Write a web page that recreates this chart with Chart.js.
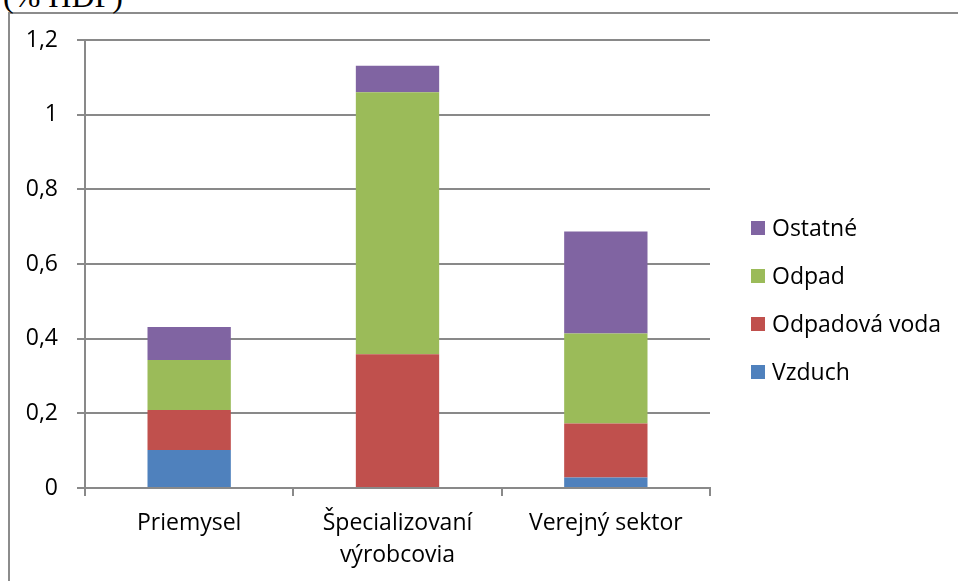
<!DOCTYPE html>
<html>
<head>
<meta charset="utf-8">
<script src="https://cdn.jsdelivr.net/npm/chart.js@4/dist/chart.umd.min.js"></script>
<style>
  html, body { margin: 0; padding: 0; background: #fff; }
  body { width: 958px; height: 581px; position: relative; overflow: hidden; }
  #frame { position: absolute; left: 8px; top: 12px; width: 1000px; height: 700px;
           border-left: 2px solid #8c8c8c; border-top: 2px solid #8c8c8c; box-sizing: border-box; }
  #unit { position: absolute; left: 3px; top: -20px; font-family: "Liberation Serif", "Times New Roman", serif;
          font-size: 32px; line-height: 32px; color: #000; white-space: nowrap; }
  #wrap { position: absolute; left: 0; top: 0; width: 958px; height: 581px; }
</style>
</head>
<body>
<div id="frame"></div>
<div id="unit">(% HDP)</div>
<div id="wrap"><canvas id="c" width="958" height="581"></canvas></div>
<script>
const categories = ['Priemysel', ['Špecializovaní', 'výrobcovia'], 'Verejný sektor'];
const seriesNames = ['Vzduch', 'Odpadová voda', 'Odpad', 'Ostatné'];
const vzduch = [0.102, 0.0, 0.028];
const odpadovaVoda = [0.107, 0.358, 0.145];
const odpad = [0.134, 0.702, 0.241];
const ostatne = [0.088, 0.071, 0.273];
const yTicks = [0, 0.2, 0.4, 0.6, 0.8, 1, 1.2];
const colors = ['#4F81BD', '#C0504D', '#9BBB59', '#8064A2'];

const FONT = '"Open Sans", "Liberation Sans", sans-serif';
const GRID = '#898989';

const seriesValues = [vzduch, odpadovaVoda, odpad, ostatne];

const legendPlugin = {
  id: 'sideLegend',
  afterDraw(chart) {
    const ctx = chart.ctx;
    const ds = chart.data.datasets;
    const area = chart.chartArea;
    const cy = (area.top + area.bottom) / 2 + 36;
    const step = 48;
    const n = ds.length;
    ctx.save();
    ctx.font = '23px ' + FONT;
    ctx.textBaseline = 'middle';
    ctx.textAlign = 'left';
    for (let k = 0; k < n; k++) {
      const d = ds[n - 1 - k];
      const y = cy + (k - (n - 1) / 2) * step;
      const bx = area.right + 41;
      ctx.fillStyle = d.backgroundColor;
      ctx.fillRect(bx, y - 7, 14, 14);
      ctx.fillStyle = '#000';
      ctx.fillText(d.label, bx + 21, y + 1);
    }
    ctx.restore();
  }
};

new Chart(document.getElementById('c'), {
  type: 'bar',
  data: {
    labels: categories,
    datasets: seriesNames.map((name, i) => ({
      label: name,
      data: seriesValues[i],
      backgroundColor: colors[i],
      borderWidth: 0,
      barPercentage: 0.4,
      categoryPercentage: 1.0
    }))
  },
  options: {
    responsive: false,
    animation: false,
    devicePixelRatio: 1,
    layout: { padding: { top: 40, right: 248, bottom: 0, left: 0 } },
    plugins: { legend: { display: false }, tooltip: { enabled: false } },
    scales: {
      x: {
        stacked: true,
        grid: { display: true, drawOnChartArea: false, drawTicks: true, tickLength: 8, color: GRID, lineWidth: 2, offset: true },
        border: { display: true, color: GRID, width: 2 },
        ticks: { color: '#000', font: { family: FONT, size: 23, lineHeight: 1.4 }, padding: 11, maxRotation: 0, autoSkip: false },
        afterFit(scale) { scale.height = 93; }
      },
      y: {
        stacked: true,
        min: 0, max: 1.2,
        afterBuildTicks(scale) { scale.ticks = yTicks.map(v => ({ value: v })); },
        grid: { display: true, drawTicks: true, tickLength: 8, color: GRID, lineWidth: 2 },
        border: { display: true, color: GRID, width: 2 },
        ticks: {
          color: '#000', font: { family: FONT, size: 23 }, padding: 19,
          callback: (v) => String(Math.round(v * 10) / 10).replace('.', ',')
        },
        afterFit(scale) { scale.width = 85; }
      }
    }
  },
  plugins: [legendPlugin]
});
</script>
</body>
</html>
